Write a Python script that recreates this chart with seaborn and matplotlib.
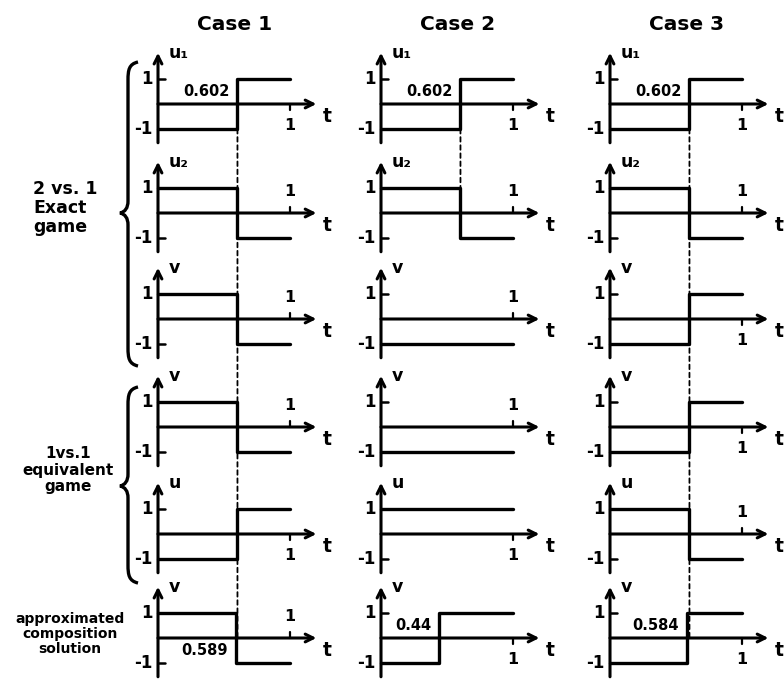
import matplotlib
matplotlib.use("Agg")
import matplotlib.pyplot as plt
import seaborn as sns
import numpy as np
import pandas as pd
from matplotlib.patches import ConnectionPatch, PathPatch
from matplotlib.path import Path

sns.set_style("white")
plt.rcParams["font.family"] = ["DejaVu Sans"]
plt.rcParams["font.weight"] = "bold"
plt.rcParams["text.color"] = "black"

# data
cases = ["Case 1", "Case 2", "Case 3"]
var_names = ["u₁", "u₂", "v", "v", "u", "v"]

case1_start = [-1, 1, 1, 1, -1, 1]
case1_end = [1, -1, -1, -1, 1, -1]
case1_switch = [0.602, 0.602, 0.602, 0.602, 0.602, 0.589]

case2_start = [-1, 1, -1, -1, 1, -1]
case2_end = [1, -1, -1, -1, 1, 1]
case2_switch = [0.602, 0.602, None, None, None, 0.44]

case3_start = [-1, 1, -1, -1, 1, -1]
case3_end = [1, -1, 1, 1, -1, 1]
case3_switch = [0.602, 0.602, 0.602, 0.602, 0.602, 0.584]

switch_text_rows = [0, 5]
dashed_until_row = [5, 1, 5]

starts = [case1_start, case2_start, case3_start]
ends = [case1_end, case2_end, case3_end]
switches = [case1_switch, case2_switch, case3_switch]

# layout (pixels)
W, H = 784, 680
col_x0 = [158, 381, 610]
row_y0 = [104, 213, 319, 427, 534, 638]
SX, SY = 132, 25
T_MIN, T_MAX = -0.35, 1.45
V_MIN, V_MAX = -1.8, 2.3

fig = plt.figure(figsize=(W / 100, H / 100), dpi=100)


def add_panel(px, py):
    left = (px + T_MIN * SX) / W
    bottom = 1 - (py - V_MIN * SY) / H
    width = (T_MAX - T_MIN) * SX / W
    height = (V_MAX - V_MIN) * SY / H
    return fig.add_axes([left, bottom, width, height])


def draw_panel(ax, name, start, end, sw, show_sw):
    if sw is None:
        df = pd.DataFrame({"t": [0.0, 1.0], "v": [start, end]})
    else:
        df = pd.DataFrame({"t": [0.0, sw, 1.0], "v": [start, end, end]})
    sns.lineplot(data=df, x="t", y="v", drawstyle="steps-post", color="black",
                 lw=2.4, ax=ax, legend=False, zorder=3)
    arrow = dict(arrowstyle="->", lw=2.2, color="black", shrinkA=0, shrinkB=0,
                 mutation_scale=14)
    ax.annotate("", xy=(1.2, 0), xytext=(0, 0), arrowprops=arrow)
    ax.annotate("", xy=(0, 2.05), xytext=(0, -1.55), arrowprops=arrow)
    ax.plot([0, 0.05], [1, 1], color="black", lw=1.8)
    ax.plot([0, 0.05], [-1, -1], color="black", lw=1.8)
    ax.plot([1, 1], [0, -0.25 * end], color="black", lw=1.6)
    ax.text(-0.04, 1, "1", ha="right", va="center", fontsize=12)
    ax.text(-0.04, -1, "-1", ha="right", va="center", fontsize=12)
    ax.text(0.08, 2.05, name, ha="left", va="center", fontsize=12.5)
    ax.text(1.25, -0.5, "t", ha="left", va="center", fontsize=13.5)
    ax.text(1.0, -0.85 * end, "1", ha="center", va="center", fontsize=11.5)
    if show_sw and sw is not None:
        ax.text(sw - 0.06, -0.5 * start, f"{sw:g}", ha="right", va="center",
                fontsize=10.5)
    ax.set_xlim(T_MIN, T_MAX)
    ax.set_ylim(V_MIN, V_MAX)
    ax.axis("off")


axes = [[None] * 3 for _ in range(6)]
for c in range(3):
    for r in range(6):
        ax = add_panel(col_x0[c], row_y0[r])
        axes[r][c] = ax
        draw_panel(ax, var_names[r], starts[c][r], ends[c][r], switches[c][r],
                   r in switch_text_rows)
    fig.text((col_x0[c] + 77) / W, 1 - 24 / H, cases[c], ha="center",
             va="center", fontsize=14.5)

# dashed guide lines at the first switch time
for c in range(3):
    sw = switches[c][0]
    last = dashed_until_row[c]
    yb = 0 if last == 5 else 1
    con = ConnectionPatch(xyA=(sw, -1), coordsA="data", axesA=axes[0][c],
                          xyB=(sw, yb), coordsB="data", axesB=axes[last][c],
                          linestyle=(0, (2.5, 2)), lw=1.3, color="black", zorder=1)
    fig.add_artist(con)


def brace(x, y_top, y_mid, y_bot):
    pts = [(x + 10, y_top), (x + 1, y_top + 2), (x, y_top + 8), (x, y_top + 18),
           (x, y_mid - 12),
           (x, y_mid - 5), (x - 3, y_mid - 1), (x - 8, y_mid),
           (x - 3, y_mid + 1), (x, y_mid + 5), (x, y_mid + 12),
           (x, y_bot - 18),
           (x, y_bot - 8), (x + 1, y_bot - 2), (x + 10, y_bot)]
    codes = [Path.MOVETO, Path.CURVE4, Path.CURVE4, Path.CURVE4, Path.LINETO,
             Path.CURVE4, Path.CURVE4, Path.CURVE4, Path.CURVE4, Path.CURVE4,
             Path.CURVE4, Path.LINETO, Path.CURVE4, Path.CURVE4, Path.CURVE4]
    verts = [(px / W, 1 - py / H) for px, py in pts]
    fig.add_artist(PathPatch(Path(verts, codes), transform=fig.transFigure,
                             fill=False, lw=2.4, color="black"))


brace(128, 62, 213, 366)
brace(128, 387, 486, 583)

fig.text(33 / W, 1 - 208 / H, "2 vs. 1\nExact\ngame", ha="left", va="center",
         fontsize=12.5, linespacing=1.1)
fig.text(68 / W, 1 - 470 / H, "1vs.1\nequivalent\ngame", ha="center",
         va="center", fontsize=11, linespacing=1.1)
fig.text(70 / W, 1 - 634 / H, "approximated\ncomposition\nsolution",
         ha="center", va="center", fontsize=10, linespacing=1.05)

fig.savefig("out.png", dpi=100)
